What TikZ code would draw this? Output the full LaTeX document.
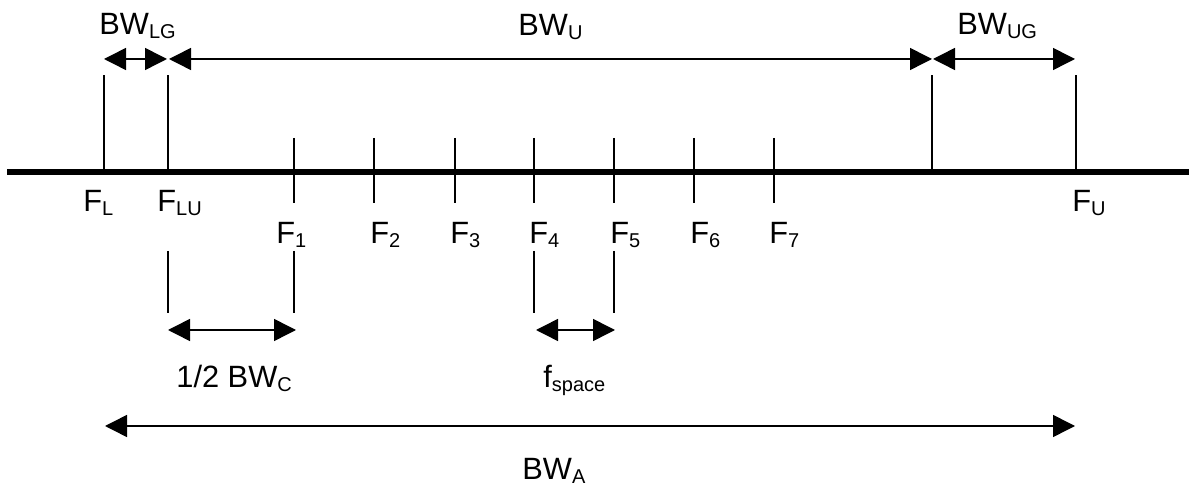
\documentclass[tikz,border=0pt]{standalone}
\usepackage{fontspec}
\setmainfont{Liberation Sans}
\usepackage{tikz}
\usetikzlibrary{calc,arrows.meta}
\newcommand{\lowsub}[1]{\raisebox{-1.8pt}{\fontsize{10}{12}\selectfont #1}}
\tikzset{
  axisln/.style={draw=black, line width=3.3pt},
  bar/.style={draw=black, line width=0.75pt},
  dim/.style={draw=black, line width=0.75pt,
    {Triangle[length=11pt,width=11pt]}-{Triangle[length=11pt,width=11pt]}},
  lab/.style={anchor=base west, inner sep=0pt, font=\fontsize{15.4}{18}\selectfont}
}

\begin{document}
\begin{tikzpicture}[x=0.5pt, y=-0.5pt]
  \useasboundingbox (0,0) rectangle (1189,491);

  % band edges on the axis
  \coordinate (FL)  at (104,172);
  \coordinate (FLU) at (168,172);
  \coordinate (FUG) at (932,172);
  \coordinate (FU)  at (1076,172);

  \draw[axisln] (7,172) -- (1189,172);
  \draw[bar] (FL)  -- ($(FL)+(0,-97)$);
  \draw[bar] (FLU) -- ($(FLU)+(0,-97)$);
  \draw[bar] (FUG) -- ($(FUG)+(0,-97)$);
  \draw[bar] (FU)  -- ($(FU)+(0,-97)$);

  % carriers
  \foreach \i/\x in {1/294,2/374,3/455,4/534,5/614,6/694,7/774}{
    \coordinate (F\i) at (\x,172);
    \draw[bar] ($(F\i)+(0,-34)$) -- ($(F\i)+(0,31)$);
  }
  \node[lab] (lF1) at (276,244) {F\lowsub{1}};
  \node[lab] (lF2) at (370,244) {F\lowsub{2}};
  \node[lab] (lF3) at (450,244) {F\lowsub{3}};
  \node[lab] (lF4) at (529,244) {F\lowsub{4}};
  \node[lab] (lF5) at (610,244) {F\lowsub{5}};
  \node[lab] (lF6) at (690,244) {F\lowsub{6}};
  \node[lab] (lF7) at (769,244) {F\lowsub{7}};

  \node[lab] (lFL)  at (83,212)   {F\lowsub{L}};
  \node[lab] (lFLU) at (157,212)  {F\lowsub{LU}};
  \node[lab] (lFU)  at (1072,212) {F\lowsub{U}};

  % top dimensions
  \coordinate (lgA) at (104,59);  \coordinate (lgB) at (167,59);
  \coordinate (uA)  at (169,59);  \coordinate (uB)  at (932,59);
  \coordinate (ugA) at (933,59);  \coordinate (ugB) at (1075,59);
  \draw[dim] (lgA) -- (lgB);
  \draw[dim] (uA) -- (uB);
  \draw[dim] (ugA) -- (ugB);
  \node[lab] (lLG) at (99,35)  {BW\lowsub{LG}};
  \node[lab] (lU)  at (518,36) {BW\lowsub{U}};
  \node[lab] (lUG) at (957,35) {BW\lowsub{UG}};

  % spacing dimensions
  \draw[bar] (168,251) -- (168,313);
  \draw[bar] (294,251) -- (294,313);
  \draw[bar] (534,251) -- (534,313);
  \draw[bar] (614,251) -- (614,313);
  \coordinate (cA) at (168,330); \coordinate (cB) at (296,330);
  \coordinate (sA) at (536,330); \coordinate (sB) at (615,330);
  \draw[dim] (cA) -- (cB);
  \draw[dim] (sA) -- (sB);
  \node[lab] (lC) at (176,388) {1/2 BW\lowsub{C}};
  \node[lab] (ls) at (543,388) {f\lowsub{space}};

  % allocated band
  \coordinate (aA) at (105,426); \coordinate (aB) at (1075,426);
  \draw[dim] (aA) -- (aB);
  \node[lab] (lA) at (522,480) {BW\lowsub{A}};
\end{tikzpicture}
\end{document}
